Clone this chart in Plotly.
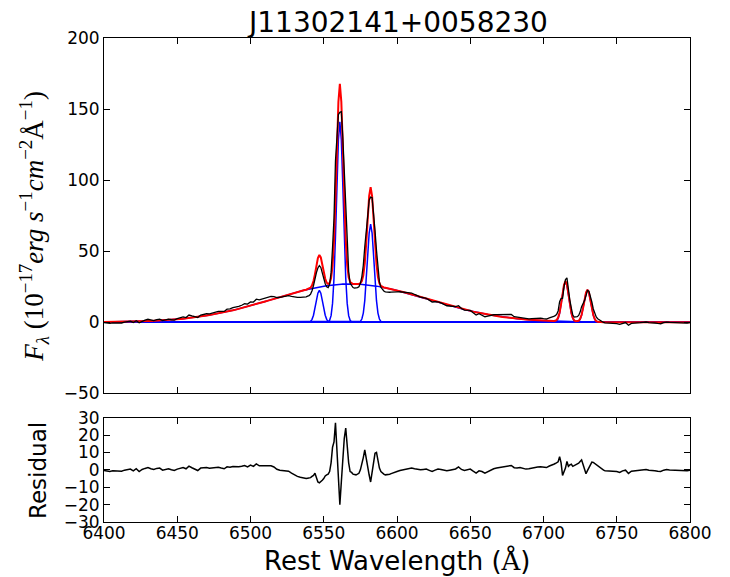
import numpy as np
import plotly.graph_objects as go

TITLE = "J11302141+0058230"

# Wavelength sampling (Å): 2 Å steps in the continuum, 1 Å steps across the emission lines
wave_segments = [(6400, 6536, 2), (6537, 6595, 1), (6596, 6704, 2), (6705, 6741, 1), (6742, 6800, 2)]

# Broad H-alpha component on the sampling grid (1e-17 erg/s/cm2/Å)
broad_component = [
    # 6400-6536, step 2
    0.16, 0.18, 0.21, 0.23, 0.26, 0.29, 0.33, 0.37, 0.41, 0.46,
    0.51, 0.57, 0.63, 0.70, 0.77, 0.85, 0.94, 1.04, 1.14, 1.26,
    1.38, 1.52, 1.66, 1.81, 1.98, 2.16, 2.35, 2.56, 2.77, 3.01,
    3.25, 3.52, 3.80, 4.09, 4.40, 4.73, 5.07, 5.44, 5.82, 6.21,
    6.63, 7.06, 7.51, 7.97, 8.46, 8.95, 9.47, 10.0, 10.54, 11.10,
    11.67, 12.25, 12.84, 13.44, 14.05, 14.67, 15.28, 15.91, 16.53, 17.16,
    17.78, 18.39, 19.00, 19.61, 20.20, 20.78, 21.34, 21.89, 22.42,
    # 6537-6595, step 1
    22.68, 22.93, 23.18, 23.42, 23.65, 23.88, 24.11, 24.32, 24.53, 24.73,
    24.92, 25.11, 25.29, 25.46, 25.62, 25.77, 25.92, 26.06, 26.18, 26.30,
    26.41, 26.51, 26.61, 26.69, 26.76, 26.82, 26.88, 26.92, 26.96, 26.98,
    27.0, 27.0, 27.0, 26.98, 26.96, 26.92, 26.88, 26.82, 26.76, 26.69,
    26.61, 26.51, 26.41, 26.30, 26.18, 26.06, 25.92, 25.77, 25.62, 25.46,
    25.29, 25.11, 24.92, 24.73, 24.53, 24.32, 24.11, 23.88, 23.65,
    # 6596-6704, step 2
    23.42, 22.93, 22.42, 21.89, 21.34, 20.78, 20.20, 19.61, 19.00, 18.39,
    17.78, 17.16, 16.53, 15.91, 15.28, 14.67, 14.05, 13.44, 12.84, 12.25,
    11.67, 11.10, 10.54, 10.0, 9.47, 8.95, 8.46, 7.97, 7.51, 7.06,
    6.63, 6.21, 5.82, 5.44, 5.07, 4.73, 4.40, 4.09, 3.80, 3.52,
    3.25, 3.01, 2.77, 2.56, 2.35, 2.16, 1.98, 1.81, 1.66, 1.52,
    1.38, 1.26, 1.14, 1.04, 0.94,
    # 6705-6741, step 1
    0.90, 0.85, 0.81, 0.77, 0.73, 0.70, 0.66, 0.63, 0.60, 0.57,
    0.54, 0.51, 0.48, 0.46, 0.43, 0.41, 0.39, 0.37, 0.35, 0.33,
    0.31, 0.29, 0.28, 0.26, 0.24, 0.23, 0.22, 0.21, 0.19, 0.18,
    0.17, 0.16, 0.15, 0.14, 0.13, 0.13, 0.12,
    # 6742-6800, step 2
    0.11, 0.10, 0.09, 0.08, 0.07, 0.06, 0.06, 0.05, 0.04, 0.04,
    0.03, 0.03, 0.02, 0.02, 0.02, 0.01, 0.01, 0.01, 0.01, 0.01,
    0.0, 0.0, 0.0, 0.0, 0.0, 0.0, 0.0, 0.0, 0.0, 0.0,
]

# Observed minus model on the sampling grid
residual = [
    # 6400-6536, step 2
    -0.4, -0.8, -1.0, -0.6, -0.7, -1.0, -0.8, -0.2, 0.2, 0.4,
    -0.6, 0.6, -1.0, 0.2, 0.8, 1.3, 0.6, 0.2, 0.8, 1.0,
    -0.2, 0.3, 0.6, 0.0, -0.4, 0.4, 0.8, 1.3, 0.6, 2.1,
    1.2, 0.2, -0.4, 1.0, 1.2, 1.3, 0.9, 1.0, 1.2, 1.5,
    1.0, 0.6, 1.7, 1.5, 1.9, 1.6, 1.7, 2.0, 2.5, 1.7,
    2.7, 2.0, 3.4, 2.3, 2.2, 2.3, 2.4, 2.3, 1.6, 0.3,
    -0.3, -0.4, -0.5, -0.8, -1.9, -3.0, -3.8, -4.3, -4.8,
    # 6537-6595, step 1
    -5.1, -5.0, -4.8, -4.8, -4.5, -3.8, -3.2, -2.0, -5.0, -7.0,
    -7.5, -7.0, -6.0, -5.0, -3.5, -2.9, -2.5, -1.0, 4.0, 13.0,
    16.0, 27.0, 10.0, -9.0, -20.0, -7.0, 7.0, 18.0, 24.0, 13.0,
    4.0, -1.0, -1.5, -2.5, -2.9, -2.9, -2.5, -2.0, 0.0, 3.0,
    7.0, 11.5, 6.0, 1.0, -3.0, -7.0, -1.0, 5.0, 9.5, 10.0,
    5.0, 1.0, -1.0, -2.0, -2.5, -2.9, -2.9, -2.9, -2.5,
    # 6596-6704, step 2
    -2.2, -1.8, -1.0, -0.4, 0.0, 0.4, 0.6, 1.0, 0.6, 0.2,
    0.0, 0.2, 0.4, -0.3, -1.0, -0.2, 0.4, 0.2, -0.3, -0.6,
    -0.2, 0.2, 0.5, 1.7, 0.2, -0.4, 0.0, 0.4, -0.8, -1.9,
    -0.6, -1.0, -1.9, -1.0, 0.0, 0.6, 1.0, 1.3, 1.5, 1.9,
    2.2, 2.5, 1.2, 1.0, 1.3, 0.8, 0.4, 0.6, 1.0, 1.2,
    1.6, 1.7, 1.4, 1.3, 2.2,
    # 6705-6741, step 1
    2.4, 2.8, 3.2, 3.6, 4.0, 4.6, 7.6, 4.0, -3.2, -1.5,
    1.0, 4.8, 2.0, 2.8, 3.2, 2.0, 2.4, 2.9, 3.3, 3.8,
    4.8, 5.7, 3.0, -0.5, -2.3, -0.5, 1.0, 2.8, 4.4, 4.2,
    3.5, 2.9, 2.2, 1.6, 0.8, 0.2, -0.2,
    # 6742-6800, step 2
    -0.5, -0.6, -0.4, -0.5, -1.0, -1.5, -0.6, -0.2, -2.1, -0.8,
    -0.6, -0.2, -0.3, 0.0, 0.2, -0.2, -0.2, -0.5, -0.8, -1.0,
    -0.2, 0.2, -0.1, -0.2, 0.0, 0.0, -0.3, -0.6, -0.5, -0.2,
]

# Narrow components: [NII]6548, H-alpha, [NII]6583, [SII]6716, [SII]6731
line_centres = [6547, 6561, 6582, 6715, 6730]
# Each profile is sampled at centre-8 ... centre+8 Å in 1 Å steps
line_profiles = [
    [0.05, 0.2, 0.7, 2.1, 5.0, 9.6, 15.4, 20.5, 22.5, 20.5, 15.4, 9.6, 5.0, 2.1, 0.7, 0.2, 0.05],
    [0.3, 1.4, 4.7, 13.3, 31.2, 60.2, 96.6, 128.3, 141.0, 128.3, 96.6, 60.2, 31.2, 13.3, 4.7, 1.4, 0.3],
    [0.2, 0.7, 2.3, 6.5, 15.2, 29.5, 47.3, 62.8, 69.0, 62.8, 47.3, 29.5, 15.2, 6.5, 2.3, 0.7, 0.2],
    [0.1, 0.3, 0.9, 2.7, 6.3, 12.2, 19.5, 25.9, 28.5, 25.9, 19.5, 12.2, 6.3, 2.7, 0.9, 0.3, 0.1],
    [0.05, 0.2, 0.7, 2.1, 5.0, 9.7, 15.5, 20.7, 22.7, 20.7, 15.5, 9.7, 5.0, 2.1, 0.7, 0.2, 0.05],
]
HALF_WIDTH = 8

WAVE_MIN, WAVE_MAX = 6400, 6800

# ---- assemble the spectrum -------------------------------------------------
wave = np.concatenate([np.arange(a, b + 1, s) for a, b, s in wave_segments])
assert len(wave) == len(broad_component) == len(residual), (len(wave), len(broad_component), len(residual))

model = np.array(broad_component, dtype=float)
pos = {int(w): i for i, w in enumerate(wave)}
narrow_x, narrow_y = [], []
for centre, prof in zip(line_centres, line_profiles):
    xs = list(range(centre - HALF_WIDTH, centre + HALF_WIDTH + 1))
    for w, v in zip(xs, prof):
        model[pos[w]] += v
    narrow_x.append([WAVE_MIN] + xs + [WAVE_MAX])
    narrow_y.append([0.0] + list(prof) + [0.0])
flux = model + np.array(residual, dtype=float)

# ---- figure ----------------------------------------------------------------
BLUE, RED, BLACK = "#0000ff", "#ff0000", "#000000"
fig = go.Figure()

for xs, ys in zip(narrow_x, narrow_y):
    fig.add_trace(go.Scatter(x=xs, y=ys, mode="lines", line=dict(color=BLUE, width=1.5),
                             xaxis="x", yaxis="y", hoverinfo="skip"))
fig.add_trace(go.Scatter(x=wave, y=broad_component, mode="lines", line=dict(color=BLUE, width=1.5),
                         xaxis="x", yaxis="y"))
fig.add_trace(go.Scatter(x=wave, y=model, mode="lines", line=dict(color=RED, width=2),
                         xaxis="x", yaxis="y"))
fig.add_trace(go.Scatter(x=wave, y=flux, mode="lines", line=dict(color=BLACK, width=1.3),
                         xaxis="x", yaxis="y"))
fig.add_trace(go.Scatter(x=wave, y=residual, mode="lines", line=dict(color=BLACK, width=1.5),
                         xaxis="x2", yaxis="y2"))

FONT = "DejaVu Sans"
axis_common = dict(
    showline=True, linecolor="black", linewidth=1, mirror="ticks",
    ticks="inside", ticklen=6, tickwidth=1, tickcolor="black",
    showgrid=False, zeroline=False,
    tickfont=dict(family=FONT, size=17, color="black"),
)

fig.update_layout(
    width=730, height=577,
    margin=dict(l=104, r=40, t=38, b=55),
    paper_bgcolor="white", plot_bgcolor="white",
    showlegend=False,
    xaxis=dict(domain=[0, 1], range=[WAVE_MIN, WAVE_MAX], anchor="y", tick0=6400, dtick=50,
               showticklabels=False, **axis_common),
    yaxis=dict(domain=[0.2657, 1], range=[-50, 200], anchor="x", tick0=0, dtick=50, **axis_common),
    xaxis2=dict(domain=[0, 1], range=[WAVE_MIN, WAVE_MAX], anchor="y2", tick0=6400, dtick=50,
                ticklabelstandoff=-4, **axis_common),
    yaxis2=dict(domain=[0, 0.2157], range=[-30, 30], anchor="x2", tick0=0, dtick=10, **axis_common),
)

fig.add_annotation(text=TITLE, xref="paper", yref="paper", x=0.5, y=1.033,
                   xanchor="center", yanchor="middle", showarrow=False,
                   font=dict(family=FONT, size=28, color="black"))
fig.add_annotation(text="Rest Wavelength (<span style='font-family:DejaVu Serif'>Å</span>)",
                   xref="paper", yref="paper", x=0.5, y=-0.08,
                   xanchor="center", yanchor="middle", showarrow=False,
                   font=dict(family=FONT, size=26, color="black"))
fig.add_annotation(text="Residual", xref="paper", yref="paper", x=-0.113, y=0.107,
                   xanchor="center", yanchor="middle", textangle=-90, showarrow=False,
                   font=dict(family=FONT, size=23, color="black"))
ylabel = ("<i>F</i><sub><i>λ</i></sub> (10<sup>−17</sup><i>erg s</i><sup>−1</sup>"
          "<i>cm</i><sup>−2</sup>Å<sup>−1</sup>)")
fig.add_annotation(text=ylabel, xref="paper", yref="paper", x=-0.12, y=0.6116,
                   xanchor="center", yanchor="middle", textangle=-90, showarrow=False,
                   font=dict(family="Liberation Serif", size=27, color="black"))

fig.write_html("out.html")
